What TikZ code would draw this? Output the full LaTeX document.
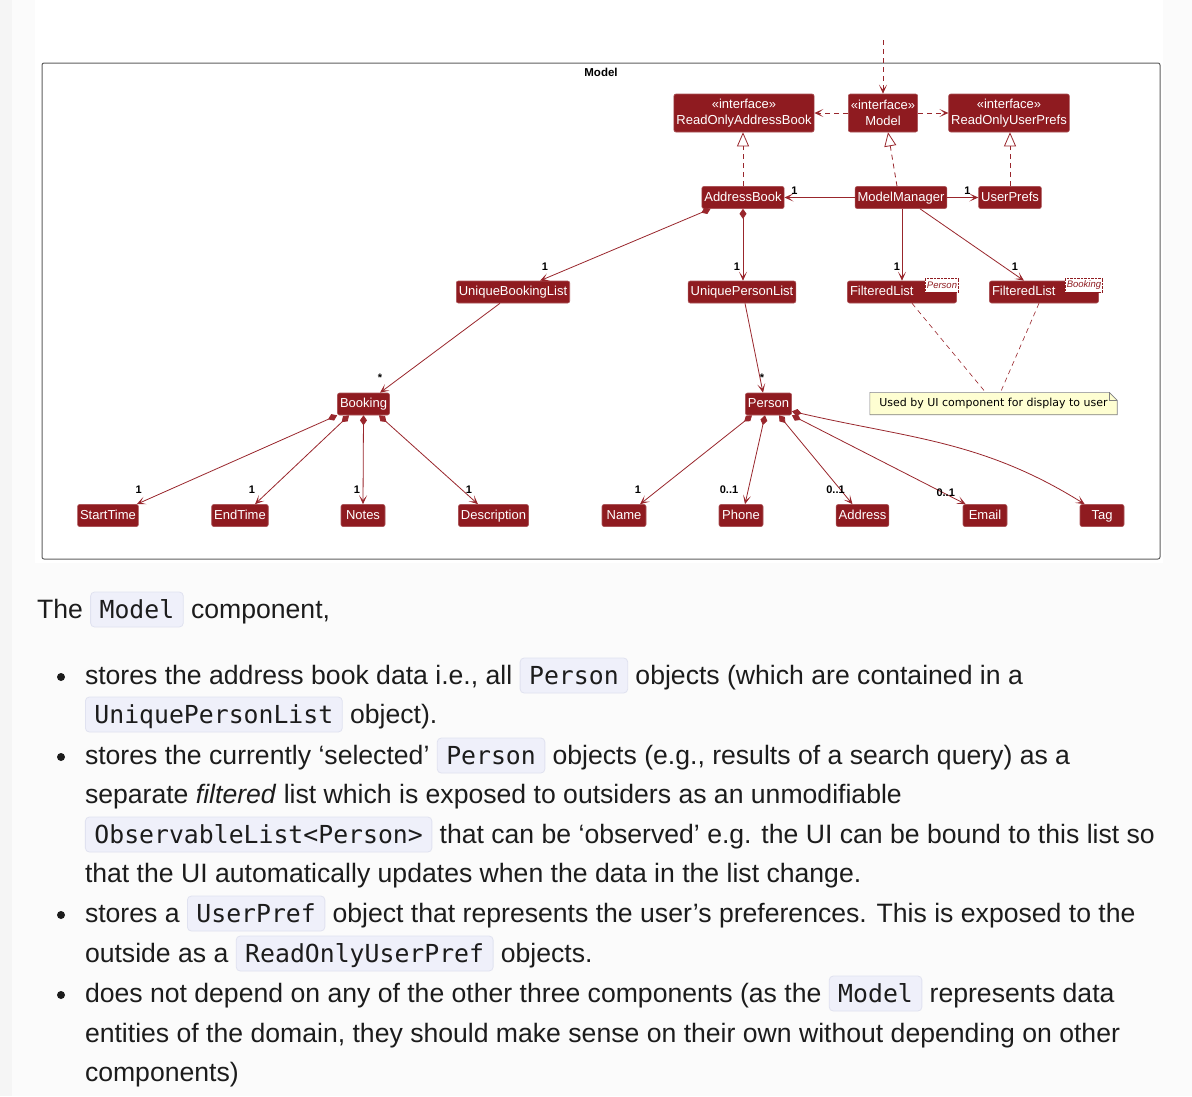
\documentclass[tikz,border=0pt]{standalone}
\usepackage{fontspec}
\setmainfont{Liberation Sans}
\newfontfamily\umlfont{Liberation Sans}
\newfontfamily\notefont{DejaVu Sans}
\newfontfamily\codefont{DejaVu Sans Mono}
\usepackage{xcolor}
\definecolor{umlred}{RGB}{143,27,32}
\definecolor{edgered}{RGB}{153,38,44}
\definecolor{notefill}{RGB}{254,254,210}
\definecolor{chipfill}{RGB}{239,240,250}
\definecolor{chipline}{RGB}{224,226,240}
\definecolor{pagebg}{RGB}{245,245,245}
\definecolor{panelbg}{RGB}{251,251,251}
\definecolor{framegray}{RGB}{95,95,95}
\definecolor{bodytext}{RGB}{28,28,28}
\usetikzlibrary{arrows.meta, positioning, calc}
\newcommand{\pagefont}{\fontsize{26.6}{39}\selectfont}
\newcommand{\inlinecode}[1]{\tikz[baseline=(chipnode.base)]\node[chip](chipnode){#1};}
\tikzset{
  cls/.style={
    rectangle, rounded corners=2pt, fill=umlred, draw=umlred!75!white,
    line width=0.6pt, text=white, inner xsep=2.5pt, inner ysep=0pt,
    minimum height=22pt, minimum width=44pt, text height=9.5pt, text depth=2.5pt,
    font=\umlfont\fontsize{13}{16}\selectfont
  },
  iface/.style={cls, align=center, minimum height=38pt, text height=, text depth=},
  listcls/.style={cls, text width=104pt, align=left},
  tmpl/.style={
    rectangle, draw=umlred, densely dotted, fill=white, text=umlred,
    inner xsep=1.5pt, inner ysep=1pt, minimum height=14pt,
    font=\umlfont\itshape\fontsize{9.5}{10}\selectfont
  },
  note/.style={
    rectangle, fill=notefill, minimum width=247pt, minimum height=22pt,
    font=\notefont\fontsize{11}{13}\selectfont
  },
  frametitle/.style={font=\umlfont\bfseries\fontsize{11.5}{13}\selectfont, inner sep=0pt},
  assoc/.style={draw=edgered, line width=0.8pt, -{Stealth[length=9pt,width=8pt,inset=5pt]}},
  depend/.style={assoc, dash pattern=on 5pt off 4pt},
  realize/.style={
    draw=edgered, line width=0.8pt, dash pattern=on 5pt off 4pt,
    -{Triangle[length=14pt,width=12pt,fill=white]}
  },
  compose/.style={assoc, {Diamond[length=10pt,width=7pt]}-{Stealth[length=9pt,width=8pt,inset=5pt]}},
  notelink/.style={draw=edgered, line width=0.6pt, dash pattern=on 5pt off 4pt},
  mult/.style={font=\umlfont\bfseries\fontsize{11}{12}\selectfont, inner sep=0pt, text=black},
  body/.style={anchor=base west, inner sep=0pt, outer sep=0pt, font=\pagefont, text=bodytext},
  bulletdot/.style={circle, fill=bodytext, inner sep=0pt, minimum size=8pt},
  chip/.style={
    rectangle, rounded corners=4pt, fill=chipfill, draw=chipline, line width=0.8pt,
    font=\codefont\fontsize{24.8}{28}\selectfont, text=bodytext, anchor=base,
    inner xsep=9pt, inner ysep=5pt, text height=21pt, text depth=4pt
  },
}

\begin{document}
\begin{tikzpicture}[x=1pt,y=-1pt]
  \useasboundingbox (0,0) rectangle (1192,1096);
  \fill[pagebg] (0,0) rectangle (1192,1096);
  \fill[panelbg] (12,0) rectangle (1192,1096);
  \fill[white] (35,0) rectangle (1163,563);
  \draw[framegray, line width=1pt, rounded corners=2pt] (42,63) rectangle (1160,559);
  \node[frametitle] (pkg) at (601,72) {Model};

  % interfaces
  \node[iface] (roab)  at (744,113)  {«interface»\\ReadOnlyAddressBook};
  \node[iface] (model) at (883,113)  {«interface»\\Model};
  \node[iface] (roup)  at (1009,113) {«interface»\\ReadOnlyUserPrefs};
  \coordinate (ext) at (883,40);

  % classes
  \node[cls] (ab) at (743,197.5)  {AddressBook};
  \node[cls] (mm) at (901,197.5)  {ModelManager};
  \node[cls] (up) at (1010,197.5) {UserPrefs};
  \node[cls] (ubl) at (513,292) {UniqueBookingList};
  \node[cls] (upl) at (742,292) {UniquePersonList};
  \node[listcls] (flp) at (902,292)  {FilteredList};
  \node[listcls] (flb) at (1044,292) {FilteredList};
  \node[tmpl] (flpT) at (942,285)  {Person};
  \node[tmpl] (flbT) at (1084,285) {Booking};
  \node[cls] (booking) at (363.5,404) {Booking};
  \node[cls] (person)  at (768.5,404) {Person};
  \node[note] (note) at (993.5,403.5) {Used by UI component for display to user};
  \fill[white] ([xshift=-8pt]note.north east) -- (note.north east) -- ([yshift=-8pt]note.north east) -- cycle;
  \draw[gray, line width=0.6pt] (note.north west) -- ([xshift=-8pt]note.north east)
    -- ([yshift=-8pt]note.north east) |- (note.south west) -- cycle;
  \draw[gray, line width=0.6pt] ([xshift=-8pt]note.north east) |- ([yshift=-8pt]note.north east);

  \node[cls] (start)   at (108,515.5)   {StartTime};
  \node[cls] (endt)    at (240,515.5)   {EndTime};
  \node[cls] (notes)   at (363,515.5)   {Notes};
  \node[cls] (desc)    at (493.5,515.5) {Description};
  \node[cls] (name)    at (624,515.5)   {Name};
  \node[cls] (phone)   at (741,515.5)   {Phone};
  \node[cls] (address) at (862.5,515.5) {Address};
  \node[cls] (email)   at (985,515.5)   {Email};
  \node[cls] (tag)     at (1102,515.5)  {Tag};

  % connectors
  \draw[depend] (ext) -- (model.north);
  \draw[depend] (model.west) -- (roab.east);
  \draw[depend] (model.east) -- (roup.west);
  \draw[realize] (ab.north) -- (ab.north |- roab.south);
  \draw[realize] ([xshift=-4pt]mm.north) -- ([xshift=5pt]model.south);
  \draw[realize] (up.north) -- (up.north |- roup.south);

  \draw[assoc] (mm.west) -- (ab.east) node[mult, at end, shift={(10,-7)}] {1};
  \draw[assoc] (mm.east) -- (up.west) node[mult, at end, shift={(-11,-7)}] {1};
  \draw[compose] ([xshift=9pt]ab.south west) -- ([xshift=27pt]ubl.north)
    node[mult, at end, shift={(5,-14)}] {1};
  \draw[compose] (ab.south) -- (ab.south |- upl.north)
    node[mult, at end, shift={(-6,-14)}] {1};
  \draw[assoc] ([xshift=1pt]mm.south) -- (flp.north)
    node[mult, at end, shift={(-5,-14)}] {1};
  \draw[assoc] ([xshift=19pt]mm.south) -- ([xshift=-20pt]flb.north)
    node[mult, at end, shift={(-9,-14)}] {1};
  \draw[assoc] ([xshift=-13pt]ubl.south) -- ([xshift=16.5pt]booking.north)
    node[mult, at end, shift={(0,-15)}] {*};
  \draw[assoc] ([xshift=3pt]upl.south) -- ([xshift=-5.5pt]person.north)
    node[mult, at end, shift={(-1,-15)}] {*};
  \draw[notelink] ([xshift=10pt]flp.south) -- ([xshift=-8pt]note.north);
  \draw[notelink] ([xshift=-5pt]flb.south) -- ([xshift=7pt]note.north);

  \draw[compose] (booking.south west) -- ([xshift=-2pt]start.north east)
    node[mult, at end, shift={(2,-14)}] {1};
  \draw[compose] ([xshift=-14.5pt]booking.south) -- ([xshift=15pt]endt.north)
    node[mult, at end, shift={(-3,-14)}] {1};
  \draw[compose] (booking.south) -- (notes.north)
    node[mult, at end, shift={(-6,-14)}] {1};
  \draw[compose] ([xshift=15.5pt]booking.south) -- ([xshift=-15.5pt]desc.north)
    node[mult, at end, shift={(-9,-14)}] {1};

  \draw[compose] ([xshift=-16.5pt]person.south) -- ([xshift=16pt]name.north)
    node[mult, at end, shift={(-2,-14)}] {1};
  \draw[compose] ([xshift=-3.5pt]person.south) -- ([xshift=4pt]phone.north)
    node[mult, at end, shift={(-16,-14)}] {0..1};
  \draw[compose] ([xshift=10.5pt]person.south) -- ([xshift=-10pt]address.north)
    node[mult, at end, shift={(-17,-14)}] {0..1};
  \draw[compose] (person.south east) -- ([xshift=3pt]email.north west)
    node[mult, at end, shift={(-20,-11)}] {0..1};
  \draw[compose] ([yshift=4pt]person.south east) to[out=-13,in=148] ([xshift=5pt]tag.north west)
    node[mult, at end, shift={(-14,-15)}] {*};

  % text below the diagram
  \node[body] (intro) at (37,618) {The \inlinecode{Model} component,};

  \node[bulletdot] (dot1) at (61,677) {};
  \node[body] (b1l1) at (85,684) {stores the address book data i.e., all \inlinecode{Person} objects (which are contained in a};
  \node[body] (b1l2) at (85,723) {\inlinecode{UniquePersonList} object).};

  \node[bulletdot] (dot2) at (61,757) {};
  \node[body] (b2l1) at (85,764) {stores the currently ‘selected’ \inlinecode{Person} objects (e.g., results of a search query) as a};
  \node[body] (b2l2) at (85,803) {separate \textit{filtered} list which is exposed to outsiders as an unmodifiable};
  \node[body] (b2l3) at (85,843) {\inlinecode{ObservableList<Person>} that can be ‘observed’ e.g. the UI can be bound to this list so};
  \node[body] (b2l4) at (85,882) {that the UI automatically updates when the data in the list change.};

  \node[bulletdot] (dot3) at (61,915) {};
  \node[body] (b3l1) at (85,922) {stores a \inlinecode{UserPref} object that represents the user’s preferences. This is exposed to the};
  \node[body] (b3l2) at (85,962) {outside as a \inlinecode{ReadOnlyUserPref} objects.};

  \node[bulletdot] (dot4) at (61,995) {};
  \node[body] (b4l1) at (85,1002) {does not depend on any of the other three components (as the \inlinecode{Model} represents data};
  \node[body] (b4l2) at (85,1042) {entities of the domain, they should make sense on their own without depending on other};
  \node[body] (b4l3) at (85,1081) {components)};
\end{tikzpicture}
\end{document}
